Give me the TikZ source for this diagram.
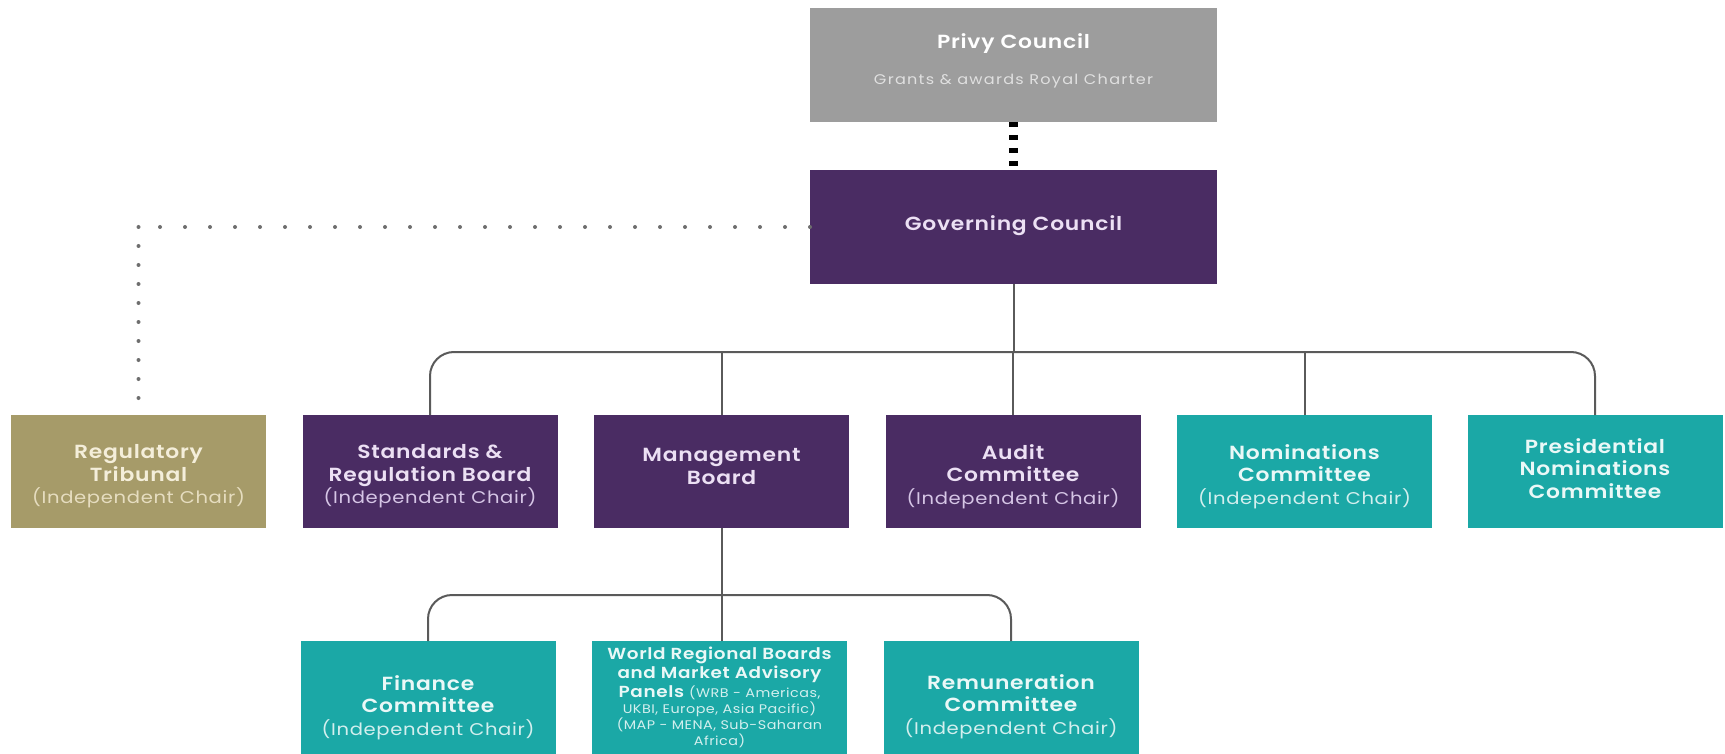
\documentclass[tikz,border=0pt]{standalone}
\usepackage{fontspec}
\newfontfamily\pop[FakeStretch=1.15, LetterSpace=4, BoldFont={Poppins SemiBold}]{Poppins}
\definecolor{privyc}{HTML}{9D9D9D}
\definecolor{purp}{HTML}{4A2C63}
\definecolor{teal2}{HTML}{1BA8A6}
\definecolor{gold2}{HTML}{A69B69}
\definecolor{lav}{HTML}{ECE0F4}
\definecolor{lavsub}{HTML}{D6C6E6}
\definecolor{tealtx}{HTML}{EAF8F7}
\definecolor{tealsub}{HTML}{D3EFEE}
\definecolor{goldtx}{HTML}{F4EEDA}
\definecolor{goldsub}{HTML}{E6DDC0}
\definecolor{connc}{HTML}{5A5A5A}
\definecolor{dotc}{HTML}{6E6E6E}
\newcommand\ichair[1]{{\mdseries\fontsize{17}{22.5}\selectfont #1}}
\newcommand\wrbsmall[1]{{\mdseries\fontsize{12.5}{16}\selectfont\color{tealsub}#1}}
\begin{document}
\begin{tikzpicture}[x=1pt,y=-1pt,
  box/.style={rectangle, minimum width=255pt, minimum height=113pt, inner sep=0pt, outer sep=0pt},
  bigbox/.style={rectangle, minimum width=407pt, minimum height=114pt, inner sep=0pt, outer sep=0pt},
  ttl/.style={align=center, inner sep=0pt, font=\pop\bfseries\fontsize{19}{22.5}\selectfont},
  conn/.style={draw=connc, line width=2pt, rounded corners=24pt},
  dotline/.style={draw=dotc, line width=4pt, line cap=round, dash pattern=on 0pt off #1},
  thickdash/.style={draw=black, line width=9pt, dash pattern=on 5pt off 8pt}
]
\useasboundingbox (0,0) rectangle (1725,754);
\fill[white] (0,0) rectangle (1725,754);

% boxes
\node[bigbox, fill=privyc] (privy) at (1013.5,65) {};
\node[bigbox, fill=purp] (gc) at (1013.5,227) {};
\node[box, fill=gold2] (reg) at (138.5,471.5) {};
\node[box, fill=purp] (std) at (430,471.5) {};
\node[box, fill=purp] (mgmt) at (721.5,471.5) {};
\node[box, fill=purp] (audit) at (1013,471.5) {};
\node[box, fill=teal2] (nom) at (1304.5,471.5) {};
\node[box, fill=teal2] (pres) at (1595,471.5) {};
\node[box, fill=teal2] (fin) at (428,697.5) {};
\node[box, fill=teal2] (wrb) at (719.5,697.5) {};
\node[box, fill=teal2] (rem) at (1011,697.5) {};

% texts
\node[ttl, text=white] (privy-t) at (1013.5,44) {Privy Council};
\node[ttl, text=white!88!black, font=\pop\addfontfeature{LetterSpace=9}\fontsize{14}{16}\selectfont] (privy-s) at (1013.5,81) {Grants \& awards Royal Charter};
\node[ttl, text=lav] (gc-t) at (1013.5,226) {Governing Council};
\node[ttl, text=goldtx, yshift=-5pt] (reg-t) at (reg.center) {Regulatory\\Tribunal\\\color{goldsub}\ichair{(Independent Chair)}};
\node[ttl, text=lav, yshift=-5pt] (std-t) at (std.center) {Standards \&\\Regulation Board\\\color{lavsub}\ichair{(Independent Chair)}};
\node[ttl, text=lav, yshift=5pt] (mgmt-t) at (mgmt.center) {Management\\Board};
\node[ttl, text=lav, yshift=-5pt] (audit-t) at (audit.center) {Audit\\Committee\\\color{lavsub}\ichair{(Independent Chair)}};
\node[ttl, text=tealtx, yshift=-5pt] (nom-t) at (nom.center) {Nominations\\Committee\\\color{tealsub}\ichair{(Independent Chair)}};
\node[ttl, text=tealtx, yshift=3pt] (pres-t) at (pres.center) {Presidential\\Nominations\\Committee};
\node[ttl, text=tealtx, yshift=-10pt] (fin-t) at (fin.center) {Finance\\Committee\\\color{tealsub}\ichair{(Independent Chair)}};
\node[ttl, text=tealtx, yshift=-9pt] (rem-t) at (rem.center) {Remuneration\\Committee\\\color{tealsub}\ichair{(Independent Chair)}};
\node[ttl, text=tealtx, yshift=0.5pt, font=\pop\bfseries\fontsize{16}{19}\selectfont] (wrb-t) at (wrb.center)
  {World Regional Boards\\and Market Advisory\\Panels \wrbsmall{(WRB - Americas,}\\[-3pt]
   \wrbsmall{UKBI, Europe, Asia Pacific)}\\[-3pt]
   \wrbsmall{(MAP - MENA, Sub-Saharan}\\[-3pt]
   \wrbsmall{Africa)}};

% connectors
\coordinate (bus) at (0,352);
\coordinate (bus2) at (0,595);
\coordinate (corner) at (138.5,227);
\draw[thickdash] (privy.south) -- (gc.north);
\draw[dotline=25pt] (gc.west) -- (corner);
\draw[dotline=19pt] (corner) -- (reg.north);
\draw[conn] (std.north) -- (std.north |- bus) -- (pres.north |- bus) -- (pres.north);
\draw[conn] (gc.south) -- (gc.south |- bus);
\draw[conn] (mgmt.north) -- (mgmt.north |- bus);
\draw[conn] (audit.north) -- (audit.north |- bus);
\draw[conn] (nom.north) -- (nom.north |- bus);
\draw[conn] (fin.north) -- (fin.north |- bus2) -- (rem.north |- bus2) -- (rem.north);
\draw[conn] (mgmt.south) -- (mgmt.south |- wrb.north);
\end{tikzpicture}
\end{document}
